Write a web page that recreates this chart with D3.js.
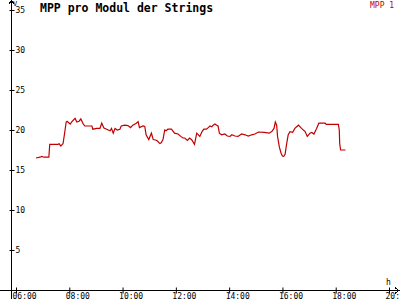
<!DOCTYPE html>
<html>
<head>
<meta charset="utf-8">
<script src="https://cdn.jsdelivr.net/npm/d3@7"></script>
<style>
  body { margin: 0; background: #fff; }
  svg { display: block; }
  text { font-family: "DejaVu Sans Mono", monospace; }
</style>
</head>
<body>
<svg id="chart"></svg>
<script>
// Messzeitpunkte und Werte (V) der Serie "MPP 1"
const times = ["06:45","06:54","06:58","07:03","07:12","07:14","07:16","07:35","07:37","07:41","07:46","07:50","07:53","07:55",
  "08:02","08:06","08:13","08:17","08:22","08:26","08:31","08:35","08:51","08:53","09:02","09:09","09:13","09:18","09:28",
  "09:32","09:35","09:39","09:43","09:48","09:54","09:57","10:05","10:12","10:18","10:23","10:31","10:35","10:38","10:46",
  "10:50","10:53","10:59","11:05","11:09","11:14","11:18","11:24","11:27","11:31","11:35","11:38","11:42","11:50","11:57",
  "12:05","12:11","12:16","12:20","12:26","12:31","12:36","12:42","12:47","12:54","12:59","13:03","13:09","13:13","13:17",
  "13:21","13:24","13:28","13:32","13:35","13:38","13:43","13:50","13:56","14:02","14:06","14:13","14:20","14:28","14:36",
  "14:43","14:51","14:58","15:06","15:19","15:30","15:36","15:41","15:44","15:47","15:49","15:53","15:57","16:00","16:03",
  "16:06","16:09","16:13","16:17","16:23","16:28","16:36","16:43","16:51","16:56","17:02","17:06","17:11","17:17","17:22",
  "17:36","17:39","18:06","18:08","18:09","18:11","18:22"];
const mpp1 = [16.5,16.6,16.7,16.6,16.6,16.6,18.2,18.2,18.3,18.0,18.3,19.8,21.0,21.1,
  20.75,21.05,21.45,21.0,21.1,21.4,20.8,20.5,20.5,20.1,20.2,20.2,20.85,20.25,20.0,
  19.9,20.2,19.6,20.2,20.0,20.1,20.5,20.6,20.55,20.3,20.6,20.85,21.05,20.3,20.5,
  20.45,19.4,18.8,19.6,18.8,18.75,18.65,18.3,18.4,18.8,20.0,19.9,20.1,20.1,19.6,
  19.5,19.2,19.0,19.0,18.7,19.0,18.75,18.2,19.6,19.2,19.8,20.1,20.1,20.3,20.5,
  20.4,20.6,20.75,20.6,20.5,19.6,19.4,19.5,19.25,19.2,19.4,19.25,19.2,19.5,19.4,
  19.25,19.4,19.5,19.75,19.7,19.6,19.8,20.2,21.0,20.6,19.2,17.9,17.1,16.75,16.7,
  16.95,18.1,19.4,19.8,19.7,20.2,20.6,20.2,19.8,19.2,19.6,19.7,19.5,20.2,20.85,
  20.85,20.7,20.7,20.0,18.3,17.5,17.5];

const xTicks = [6, 8, 10, 12, 14, 16, 18, 20];
const yTicks = [5, 10, 15, 20, 25, 30, 35];
const title = "MPP pro Modul der Strings";
const seriesName = "MPP 1";

const W = 400, H = 300;
const svg = d3.select("#chart").attr("width", W).attr("height", H);

const toHours = s => { const p = s.split(":"); return +p[0] + +p[1] / 60; };
const data = times.map((t, i) => ({t: toHours(t), v: mpp1[i]}));

const x = d3.scaleLinear().domain([6, 20]).range([16, 389]);
const y = d3.scaleLinear().domain([0, 35]).range([290, 10]);

const ax = 11.5, ay = 290.5; // Achsenlinien

// Achsen mit Pfeilen
svg.append("path")
  .attr("d", `M${ax},299 V0.5 M${ax - 3},4.5 L${ax},0.5 L${ax + 3},4.5`)
  .attr("fill", "none").attr("stroke", "#000").attr("stroke-width", 1)
  .attr("shape-rendering", "crispEdges");
svg.append("path")
  .attr("d", `M0,${ay} H399 M395,${ay - 3} L399,${ay} L395,${ay + 3}`)
  .attr("fill", "none").attr("stroke", "#000").attr("stroke-width", 1)
  .attr("shape-rendering", "crispEdges");

// Y-Achse
svg.append("g")
  .attr("transform", `translate(${ax},0)`)
  .call(d3.axisRight(y).tickValues(yTicks).tickSizeInner(3).tickSizeOuter(0).tickPadding(1))
  .call(g => g.select(".domain").remove())
  .call(g => g.selectAll(".tick line").attr("x1", -2).attr("x2", 3).attr("stroke", "#000"))
  .call(g => g.selectAll(".tick text")
    .attr("font-family", "DejaVu Sans Mono, monospace")
    .attr("font-size", 8).attr("fill", "#000"));

// X-Achse
svg.append("g")
  .attr("transform", `translate(0,${ay})`)
  .call(d3.axisBottom(x).tickValues(xTicks).tickSizeOuter(0)
    .tickFormat(d => String(d).padStart(2, "0") + ":00"))
  .call(g => g.select(".domain").remove())
  .call(g => g.selectAll(".tick line").attr("y1", -3).attr("y2", 3).attr("stroke", "#000"))
  .call(g => g.selectAll(".tick text")
    .attr("font-family", "DejaVu Sans Mono, monospace")
    .attr("font-size", 8).attr("fill", "#000")
    .attr("text-anchor", "start").attr("x", -4).attr("y", 8).attr("dy", 0));

// Einheiten
svg.append("text").attr("x", 13).attr("y", 6).attr("font-size", 7).text("V");
svg.append("text").attr("x", 386).attr("y", 285).attr("font-size", 8).text("h");

// Titel und Legende
svg.append("text").attr("x", 40).attr("y", 12)
  .attr("font-size", 11.5).attr("font-weight", "bold").text(title);
svg.append("text").attr("x", 370).attr("y", 8)
  .attr("font-size", 8).attr("fill", "#c00000").text(seriesName);

// Linie
const line = d3.line().x(d => x(d.t)).y(d => y(d.v));
svg.append("path")
  .datum(data)
  .attr("d", line)
  .attr("fill", "none")
  .attr("stroke", "#c00000")
  .attr("stroke-width", 1.2);
</script>
</body>
</html>
